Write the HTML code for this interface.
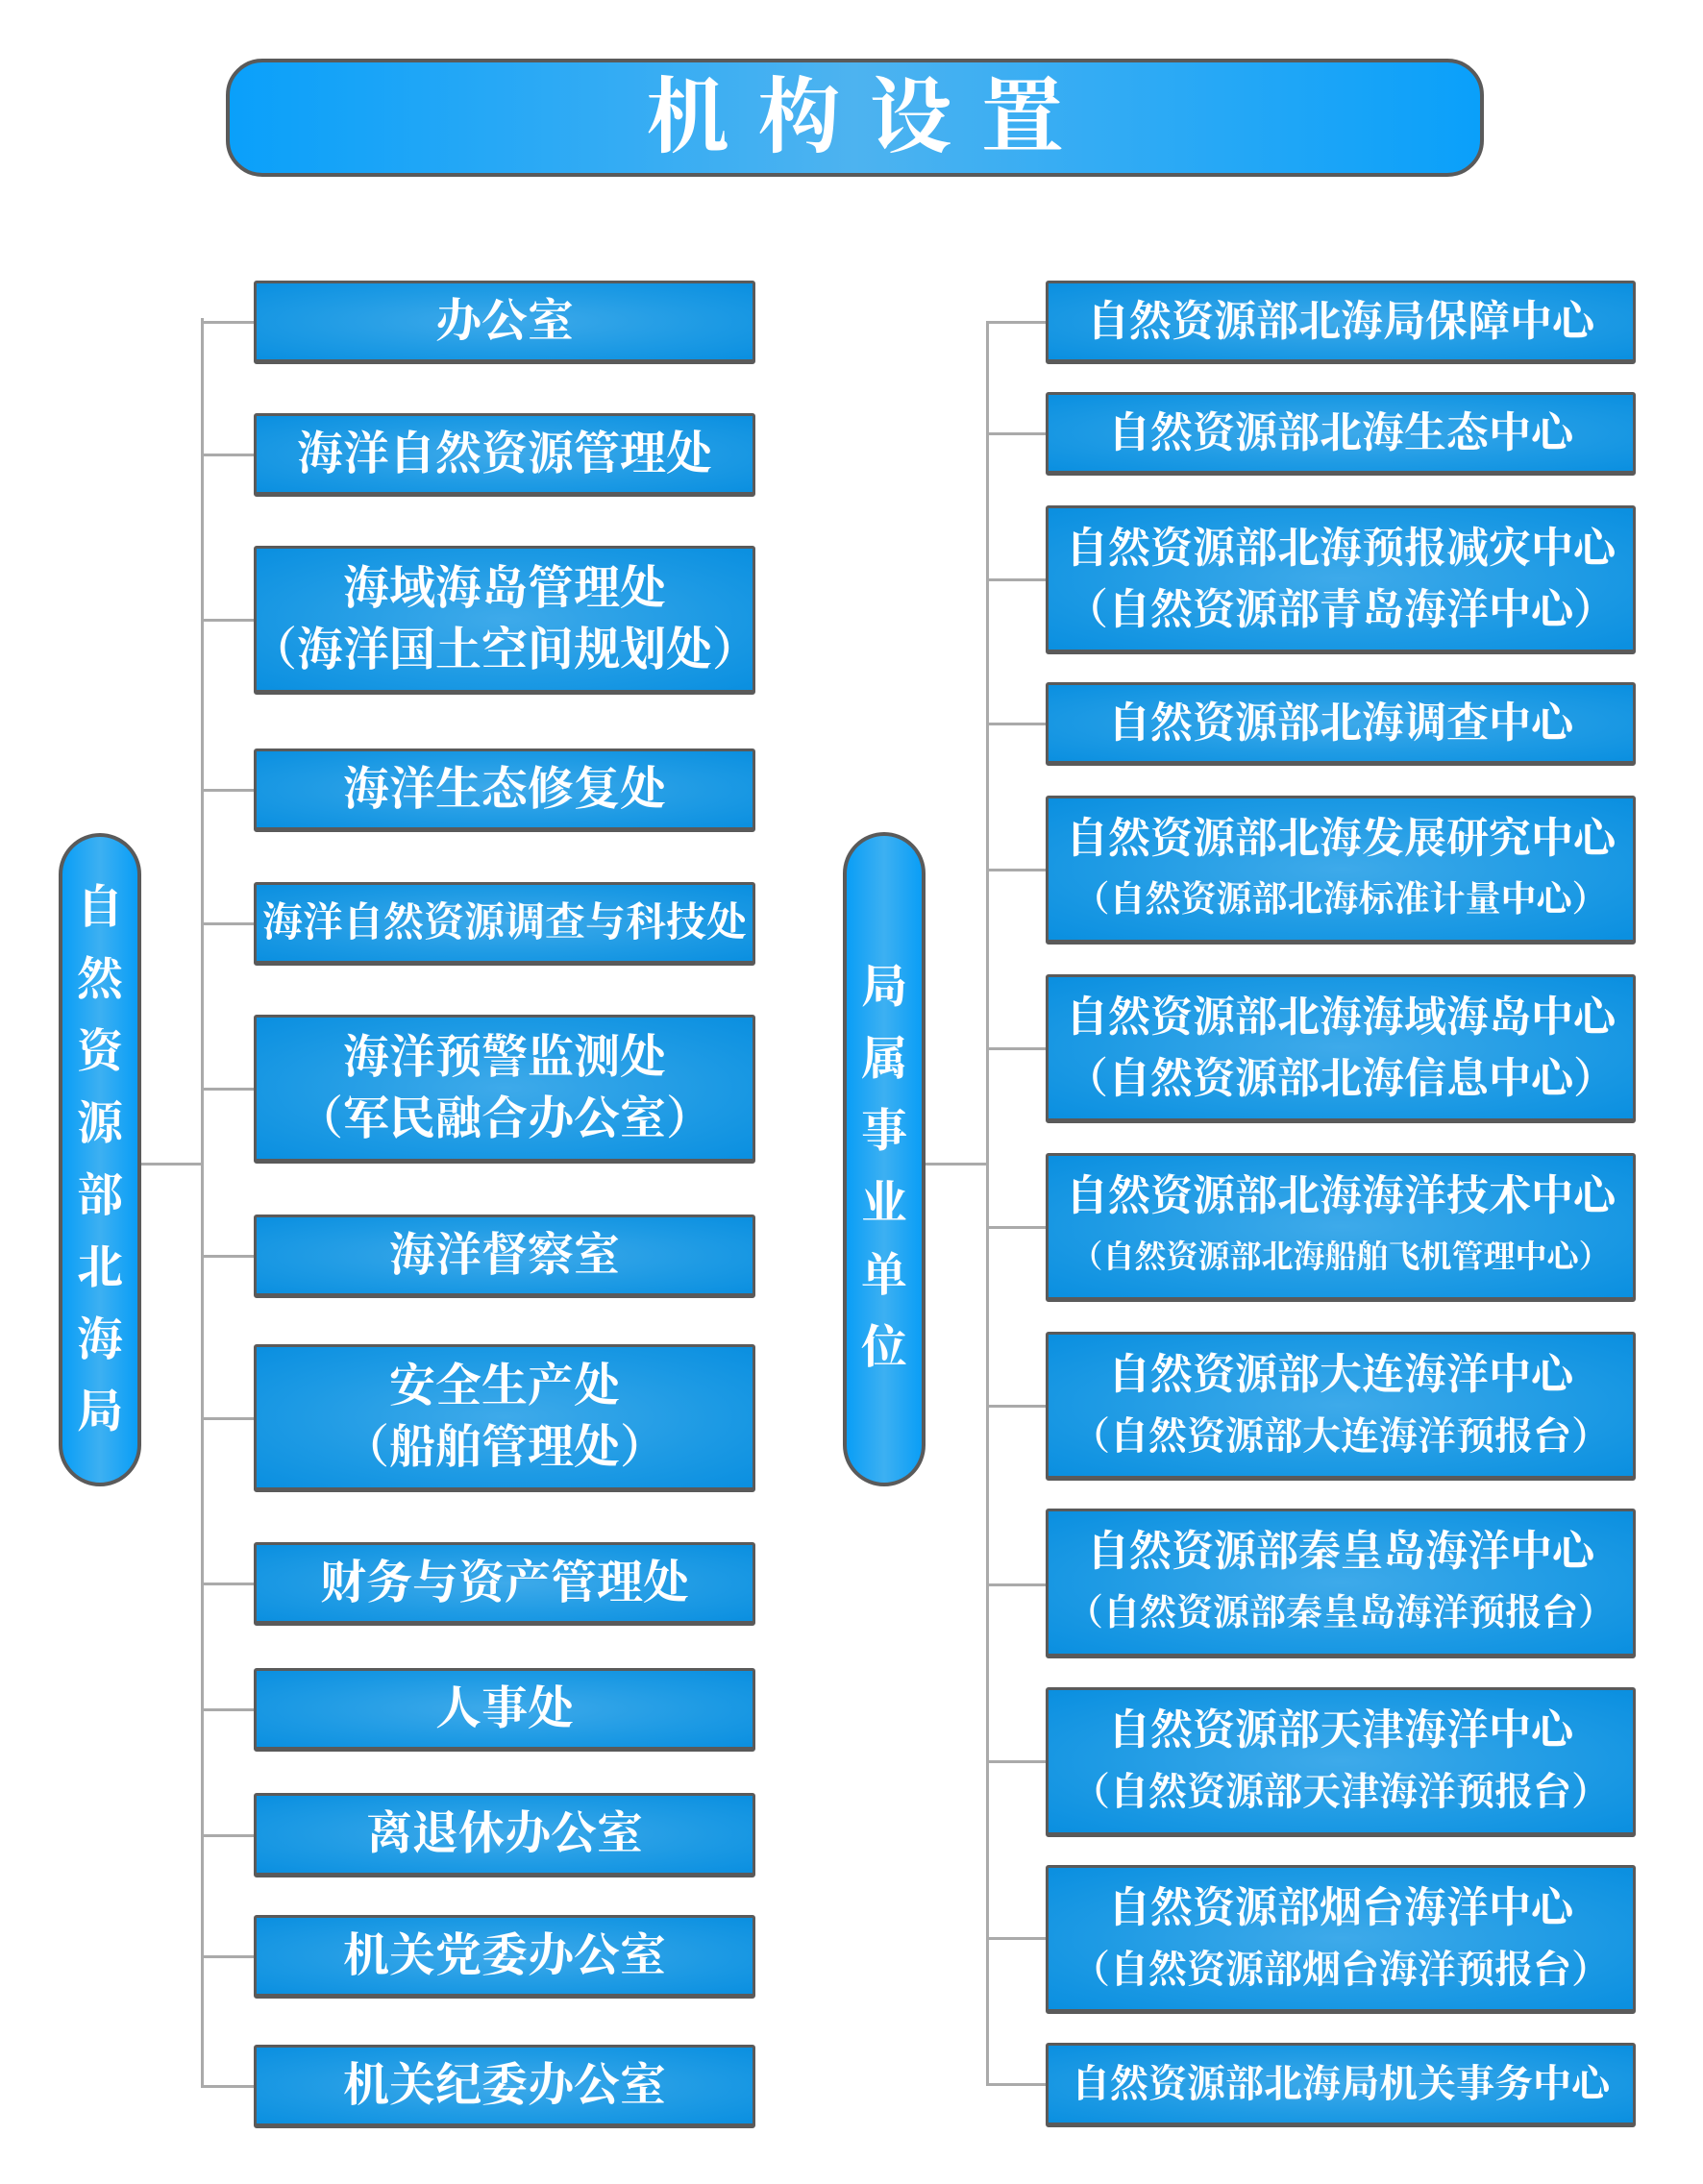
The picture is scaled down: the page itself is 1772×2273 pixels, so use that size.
<!DOCTYPE html>
<html><head><meta charset="utf-8"><style>
body{margin:0;width:1772px;height:2273px;background:#fff;position:relative;overflow:hidden;font-family:"Liberation Serif","Noto Serif CJK SC",serif;}
.t{position:absolute;left:235px;top:61px;width:1309px;height:123px;box-sizing:border-box;border:4px solid #5a5a5a;border-radius:38px;background:linear-gradient(90deg,#0aa0fa 0%,#4db3f0 50%,#0aa0fa 100%);color:#fff;font-weight:bold;font-size:86px;text-align:center;line-height:115px;letter-spacing:30px;padding-left:30px;}
.b{position:absolute;box-sizing:border-box;border:3px solid #5a5a5a;border-bottom-width:5px;border-radius:3px;background:radial-gradient(ellipse at center,#3eaaea 0%,#1d9ae4 60%,#0a8fe0 100%);color:#fff;font-weight:bold;display:flex;flex-direction:column;justify-content:center;align-items:center;font-size:48px;line-height:64px;white-space:nowrap;}
.l{left:264px;width:522px;}
.r{left:1088px;width:614px;}
.p{position:absolute;box-sizing:border-box;border:4px solid #5a5a5a;border-radius:44px;background:linear-gradient(90deg,#0a9ef6,#3db0f2,#0a9ef6);color:#fff;font-weight:bold;font-size:48px;line-height:75px;text-align:center;}
.hl{position:absolute;height:3px;background:#aaa;}
.vl{position:absolute;width:3px;background:#aaa;}
</style></head><body>
<div class="t">机构设置</div>

<div class="vl" style="left:209px;top:331px;height:1842px"></div>
<div class="hl" style="left:147px;top:1210px;width:64px"></div>
<div class="vl" style="left:1026px;top:334px;height:1837px"></div>
<div class="hl" style="left:962px;top:1210px;width:66px"></div>

<div class="hl" style="left:209px;top:334px;width:56px"></div>
<div class="hl" style="left:209px;top:472px;width:56px"></div>
<div class="hl" style="left:209px;top:644px;width:56px"></div>
<div class="hl" style="left:209px;top:821px;width:56px"></div>
<div class="hl" style="left:209px;top:960px;width:56px"></div>
<div class="hl" style="left:209px;top:1132px;width:56px"></div>
<div class="hl" style="left:209px;top:1306px;width:56px"></div>
<div class="hl" style="left:209px;top:1475px;width:56px"></div>
<div class="hl" style="left:209px;top:1647px;width:56px"></div>
<div class="hl" style="left:209px;top:1778px;width:56px"></div>
<div class="hl" style="left:209px;top:1909px;width:56px"></div>
<div class="hl" style="left:209px;top:2035px;width:56px"></div>
<div class="hl" style="left:209px;top:2170px;width:56px"></div>

<div class="hl" style="left:1026px;top:334px;width:63px"></div>
<div class="hl" style="left:1026px;top:450px;width:63px"></div>
<div class="hl" style="left:1026px;top:602px;width:63px"></div>
<div class="hl" style="left:1026px;top:752px;width:63px"></div>
<div class="hl" style="left:1026px;top:904px;width:63px"></div>
<div class="hl" style="left:1026px;top:1090px;width:63px"></div>
<div class="hl" style="left:1026px;top:1276px;width:63px"></div>
<div class="hl" style="left:1026px;top:1462px;width:63px"></div>
<div class="hl" style="left:1026px;top:1648px;width:63px"></div>
<div class="hl" style="left:1026px;top:1832px;width:63px"></div>
<div class="hl" style="left:1026px;top:2016px;width:63px"></div>
<div class="hl" style="left:1026px;top:2168px;width:63px"></div>

<div class="p" style="left:61px;top:867px;width:86px;height:680px;padding-top:36px">自<br>然<br>资<br>源<br>部<br>北<br>海<br>局</div>
<div class="p" style="left:877px;top:866px;width:86px;height:681px;padding-top:120px">局<br>属<br>事<br>业<br>单<br>位</div>

<div class="b l" style="top:292px;height:87px">办公室</div>
<div class="b l" style="top:430px;height:87px">海洋自然资源管理处</div>
<div class="b l" style="top:568px;height:155px"><div>海域海岛管理处</div><div>（海洋国土空间规划处）</div></div>
<div class="b l" style="top:779px;height:87px">海洋生态修复处</div>
<div class="b l" style="top:918px;height:87px;font-size:42px">海洋自然资源调查与科技处</div>
<div class="b l" style="top:1056px;height:155px"><div>海洋预警监测处</div><div>（军民融合办公室）</div></div>
<div class="b l" style="top:1264px;height:87px">海洋督察室</div>
<div class="b l" style="top:1399px;height:154px"><div>安全生产处</div><div>（船舶管理处）</div></div>
<div class="b l" style="top:1605px;height:87px">财务与资产管理处</div>
<div class="b l" style="top:1736px;height:87px">人事处</div>
<div class="b l" style="top:1866px;height:88px">离退休办公室</div>
<div class="b l" style="top:1993px;height:87px">机关党委办公室</div>
<div class="b l" style="top:2128px;height:87px">机关纪委办公室</div>

<div class="b r" style="top:292px;height:87px;font-size:44px">自然资源部北海局保障中心</div>
<div class="b r" style="top:408px;height:87px;font-size:44px">自然资源部北海生态中心</div>
<div class="b r" style="top:526px;height:155px;font-size:44px"><div>自然资源部北海预报减灾中心</div><div>（自然资源部青岛海洋中心）</div></div>
<div class="b r" style="top:710px;height:87px;font-size:44px">自然资源部北海调查中心</div>
<div class="b r" style="top:828px;height:155px;font-size:44px"><div>自然资源部北海发展研究中心</div><div style="font-size:37px">（自然资源部北海标准计量中心）</div></div>
<div class="b r" style="top:1014px;height:155px;font-size:44px"><div>自然资源部北海海域海岛中心</div><div>（自然资源部北海信息中心）</div></div>
<div class="b r" style="top:1200px;height:155px;font-size:44px"><div>自然资源部北海海洋技术中心</div><div style="font-size:33px">（自然资源部北海船舶飞机管理中心）</div></div>
<div class="b r" style="top:1386px;height:155px;font-size:44px"><div>自然资源部大连海洋中心</div><div style="font-size:40px">（自然资源部大连海洋预报台）</div></div>
<div class="b r" style="top:1570px;height:156px;font-size:44px"><div>自然资源部秦皇岛海洋中心</div><div style="font-size:38px">（自然资源部秦皇岛海洋预报台）</div></div>
<div class="b r" style="top:1756px;height:156px;font-size:44px"><div>自然资源部天津海洋中心</div><div style="font-size:40px">（自然资源部天津海洋预报台）</div></div>
<div class="b r" style="top:1941px;height:155px;font-size:44px"><div>自然资源部烟台海洋中心</div><div style="font-size:40px">（自然资源部烟台海洋预报台）</div></div>
<div class="b r" style="top:2126px;height:88px;font-size:40px">自然资源部北海局机关事务中心</div>
</body></html>
